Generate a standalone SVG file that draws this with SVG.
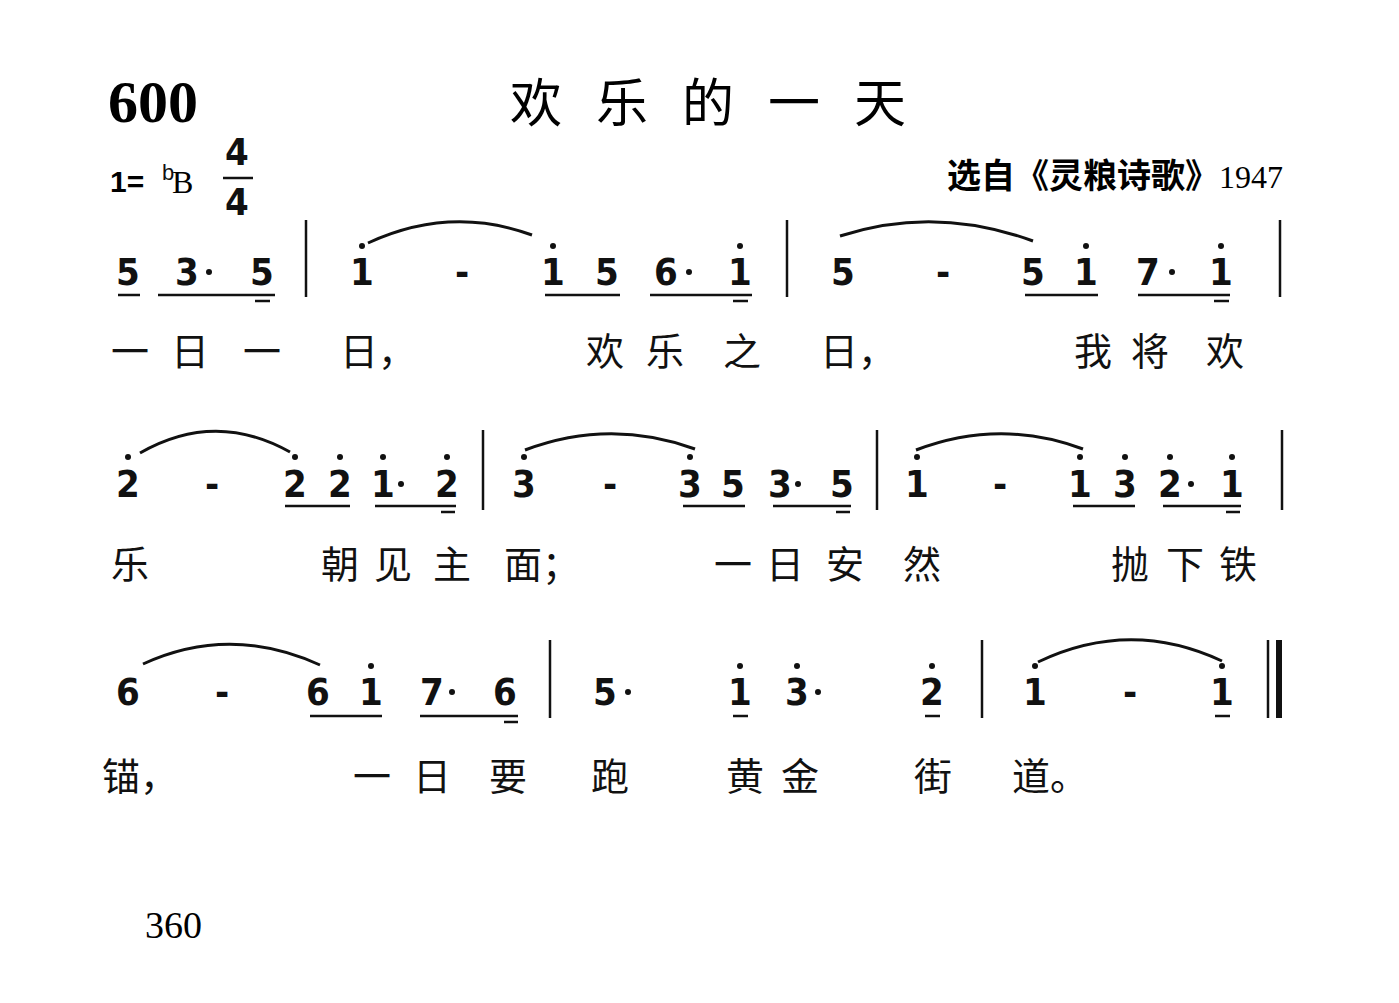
<svg xmlns="http://www.w3.org/2000/svg" width="1399" height="1003" viewBox="0 0 1399 1003">
<style>
.n{font-family:"Liberation Sans Narrow","DejaVu Sans Condensed","Liberation Sans",sans-serif;font-weight:bold;font-size:38px;text-anchor:middle;fill:#111}
.l{font-family:"Noto Sans CJK SC",sans-serif;font-size:38px;text-anchor:middle;fill:#111}
.u{stroke:#111;stroke-width:2.5}
.b{stroke:#111;stroke-width:2.5}
.s{fill:none;stroke:#111;stroke-width:3}
.d{fill:#111}
</style>
<rect width="1399" height="1003" fill="#fff"/>
<text x="108" y="122" font-family="Liberation Serif,serif" font-weight="bold" font-size="60">600</text>
<text x="510" y="122" font-family="Noto Sans CJK SC,sans-serif" font-size="52" letter-spacing="34">欢乐的一天</text>
<text x="110" y="192" font-family="Liberation Sans,sans-serif" font-weight="bold" font-size="30">1=</text>
<text x="162" y="180" font-family="Liberation Sans,sans-serif" font-size="22" fill="#111">b</text>
<text x="172" y="193" font-family="Liberation Serif,serif" font-size="32">B</text>
<text x="237" y="165" class="n" font-size="32">4</text>
<line x1="223" y1="178" x2="253" y2="178" class="b"/>
<text x="237" y="215" class="n" font-size="32">4</text>
<text x="1283" y="188" font-family="Noto Sans CJK SC,sans-serif" font-size="34" font-weight="bold" text-anchor="end">选自《灵粮诗歌》<tspan font-family="Liberation Serif,serif" font-weight="normal" font-size="32">1947</tspan></text>
<text x="145" y="938" font-family="Liberation Serif,serif" font-size="38">360</text>

<g id="row1">
<g class="n"><text x="128" y="285">5</text><text x="187" y="285">3</text><text x="262" y="285">5</text><text x="362" y="285">1</text><text x="462" y="285">-</text><text x="553" y="285">1</text><text x="607" y="285">5</text><text x="666" y="285">6</text><text x="740" y="285">1</text><text x="843" y="285">5</text><text x="943" y="285">-</text><text x="1033" y="285">5</text><text x="1086" y="285">1</text><text x="1148" y="285">7</text><text x="1221" y="285">1</text></g>
<g class="d"><circle cx="209" cy="272" r="3"/><circle cx="689" cy="272" r="3"/><circle cx="1172" cy="272" r="3"/>
<circle cx="362" cy="246" r="3"/><circle cx="553" cy="246" r="3"/><circle cx="740" cy="246" r="3"/><circle cx="1086" cy="246" r="3"/><circle cx="1221" cy="246" r="3"/></g>
<g class="u"><line x1="118" y1="295" x2="140" y2="295"/><line x1="158" y1="295" x2="275" y2="295"/><line x1="255" y1="301" x2="270" y2="301"/>
<line x1="545" y1="295" x2="620" y2="295"/><line x1="650" y1="295" x2="752" y2="295"/><line x1="733" y1="301" x2="748" y2="301"/>
<line x1="1025" y1="295" x2="1098" y2="295"/><line x1="1138" y1="295" x2="1230" y2="295"/><line x1="1214" y1="301" x2="1229" y2="301"/></g>
<g class="b"><line x1="306" y1="220" x2="306" y2="297"/><line x1="787" y1="220" x2="787" y2="297"/><line x1="1280" y1="220" x2="1280" y2="297"/></g>
<path class="s" d="M368 243 Q450 205 532 235"/><path class="s" d="M840 236 Q935 205 1033 241"/>
<g class="l"><text x="130" y="365">一</text><text x="190" y="365">日</text><text x="262" y="365">一</text><text x="378" y="365">日，</text><text x="605" y="365">欢</text><text x="665" y="365">乐</text><text x="742" y="365">之</text><text x="858" y="365">日，</text><text x="1093" y="365">我</text><text x="1150" y="365">将</text><text x="1225" y="365">欢</text></g>
</g>

<g id="row2">
<g class="n"><text x="128" y="497">2</text><text x="212" y="497">-</text><text x="295" y="497">2</text><text x="340" y="497">2</text><text x="383" y="497">1</text><text x="447" y="497">2</text><text x="524" y="497">3</text><text x="610" y="497">-</text><text x="690" y="497">3</text><text x="733" y="497">5</text><text x="780" y="497">3</text><text x="842" y="497">5</text><text x="917" y="497">1</text><text x="1000" y="497">-</text><text x="1080" y="497">1</text><text x="1125" y="497">3</text><text x="1170" y="497">2</text><text x="1232" y="497">1</text></g>
<g class="d"><circle cx="401" cy="484" r="3"/><circle cx="798" cy="484" r="3"/><circle cx="1191" cy="484" r="3"/>
<circle cx="128" cy="457" r="3"/><circle cx="295" cy="457" r="3"/><circle cx="340" cy="457" r="3"/><circle cx="383" cy="457" r="3"/><circle cx="447" cy="457" r="3"/><circle cx="524" cy="457" r="3"/><circle cx="690" cy="457" r="3"/><circle cx="917" cy="457" r="3"/><circle cx="1080" cy="457" r="3"/><circle cx="1125" cy="457" r="3"/><circle cx="1170" cy="457" r="3"/><circle cx="1232" cy="457" r="3"/></g>
<g class="u"><line x1="285" y1="506" x2="350" y2="506"/><line x1="375" y1="506" x2="456" y2="506"/><line x1="441" y1="512" x2="455" y2="512"/>
<line x1="683" y1="506" x2="745" y2="506"/><line x1="773" y1="506" x2="851" y2="506"/><line x1="836" y1="512" x2="850" y2="512"/>
<line x1="1073" y1="506" x2="1135" y2="506"/><line x1="1163" y1="506" x2="1241" y2="506"/><line x1="1226" y1="512" x2="1240" y2="512"/></g>
<g class="b"><line x1="483" y1="430" x2="483" y2="510"/><line x1="877" y1="430" x2="877" y2="510"/><line x1="1282" y1="430" x2="1282" y2="510"/></g>
<path class="s" d="M140 453 Q215 410 290 452"/><path class="s" d="M525 450 Q610 418 695 449"/><path class="s" d="M916 450 Q1000 418 1083 449"/>
<g class="l"><text x="130" y="578">乐</text><text x="340" y="578">朝</text><text x="393" y="578">见</text><text x="452" y="578">主</text><text x="542" y="578">面；</text><text x="733" y="578">一</text><text x="785" y="578">日</text><text x="845" y="578">安</text><text x="922" y="578">然</text><text x="1130" y="578">抛</text><text x="1185" y="578">下</text><text x="1238" y="578">铁</text></g>
</g>

<g id="row3">
<g class="n"><text x="128" y="705">6</text><text x="222" y="705">-</text><text x="318" y="705">6</text><text x="371" y="705">1</text><text x="432" y="705">7</text><text x="505" y="705">6</text><text x="605" y="705">5</text><text x="740" y="705">1</text><text x="797" y="705">3</text><text x="932" y="705">2</text><text x="1035" y="705">1</text><text x="1130" y="705">-</text><text x="1222" y="705">1</text></g>
<g class="d"><circle cx="452" cy="692" r="3"/><circle cx="628" cy="692" r="3"/><circle cx="818" cy="692" r="3"/>
<circle cx="371" cy="666" r="3"/><circle cx="740" cy="666" r="3"/><circle cx="797" cy="666" r="3"/><circle cx="932" cy="666" r="3"/><circle cx="1035" cy="666" r="3"/><circle cx="1222" cy="666" r="3"/></g>
<g class="u"><line x1="310" y1="716" x2="382" y2="716"/><line x1="420" y1="716" x2="518" y2="716"/><line x1="504" y1="722" x2="518" y2="722"/>
<line x1="733" y1="716" x2="748" y2="716"/><line x1="925" y1="716" x2="940" y2="716"/><line x1="1215" y1="716" x2="1230" y2="716"/></g>
<g class="b"><line x1="550" y1="640" x2="550" y2="718"/><line x1="982" y1="640" x2="982" y2="718"/><line x1="1268" y1="640" x2="1268" y2="718"/></g>
<rect x="1276" y="640" width="6" height="78" fill="#111"/>
<path class="s" d="M143 664 Q230 624 320 665"/><path class="s" d="M1038 662 Q1130 618 1222 661"/>
<g class="l"><text x="140" y="790">锚，</text><text x="372" y="790">一</text><text x="432" y="790">日</text><text x="508" y="790">要</text><text x="610" y="790">跑</text><text x="745" y="790">黄</text><text x="800" y="790">金</text><text x="933" y="790">街</text><text x="1050" y="790">道。</text></g>
</g>
</svg>
